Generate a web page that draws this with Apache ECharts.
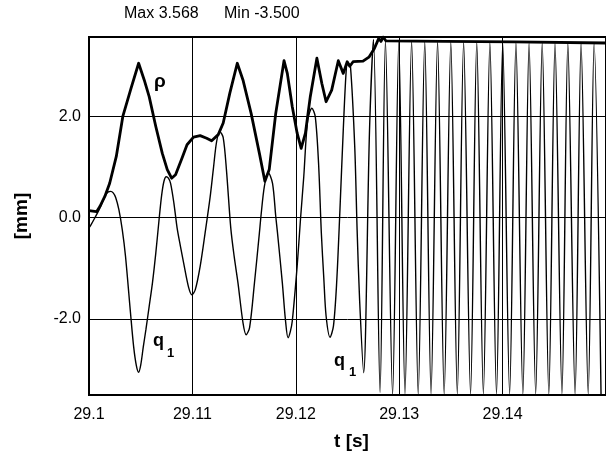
<!DOCTYPE html>
<html>
<head>
<meta charset="utf-8">
<script src="https://cdn.jsdelivr.net/npm/echarts@6/dist/echarts.min.js"></script>
<style>
  html, body { margin: 0; padding: 0; background: #fff; }
  #chart { width: 606px; height: 462px; }
</style>
</head>
<body>
<div id="chart"></div>
<script>
// Radial displacement rho and modal coordinate q1 [mm] over time t [s]
const tRho = [
  29.10000, 29.10073, 29.10105, 29.10153, 29.10200, 29.10264, 29.10327, 29.10407,
  29.10480, 29.10534, 29.10582, 29.10646, 29.10709, 29.10757, 29.10799, 29.10837,
  29.10900, 29.10948, 29.11011, 29.11075, 29.11138, 29.11186, 29.11250, 29.11298,
  29.11362, 29.11434, 29.11489, 29.11568, 29.11648, 29.11701, 29.11743, 29.11806,
  29.11886, 29.11918, 29.11966, 29.12013, 29.12052, 29.12093, 29.12140, 29.12204,
  29.12252, 29.12293, 29.12347, 29.12411, 29.12459, 29.12497, 29.12522, 29.12554,
  29.12650, 29.12707, 29.12760, 29.12802, 29.12824, 29.12846, 29.12872, 29.13445,
  29.14113, 29.15000
];
const rho = [
  0.14, 0.12, 0.22, 0.42, 0.68, 1.21, 2.00, 2.56,
  3.05, 2.72, 2.39, 1.80, 1.27, 0.95, 0.78, 0.85,
  1.18, 1.44, 1.59, 1.62, 1.57, 1.52, 1.64, 1.87,
  2.46, 3.05, 2.72, 2.06, 1.27, 0.72, 0.95, 2.06,
  3.10, 2.85, 2.19, 1.67, 1.37, 1.67, 2.39, 3.15,
  2.65, 2.29, 2.52, 3.10, 2.85, 3.08, 2.99, 3.08,
  3.09, 3.17, 3.34, 3.54, 3.48, 3.568, 3.49, 3.48,
  3.47, 3.45
];

const tQ1 = [
  29.10000, 29.10019, 29.10057, 29.10098, 29.10134, 29.10162, 29.10186, 29.10210,
  29.10234, 29.10258, 29.10289, 29.10322, 29.10353, 29.10401, 29.10432, 29.10458,
  29.10480, 29.10501, 29.10525, 29.10551, 29.10582, 29.10614, 29.10646, 29.10677,
  29.10703, 29.10725, 29.10747, 29.10768, 29.10789, 29.10821, 29.10852, 29.10883,
  29.10916, 29.10964, 29.10995, 29.11028, 29.11075, 29.11123, 29.11171, 29.11202,
  29.11234, 29.11266, 29.11298, 29.11329, 29.11371, 29.11403, 29.11441, 29.11489,
  29.11520, 29.11553, 29.11600, 29.11648, 29.11663, 29.11696, 29.11734, 29.11775,
  29.11806, 29.11823, 29.11870, 29.11899, 29.11925, 29.11947, 29.11966, 29.12013,
  29.12045, 29.12077, 29.12115, 29.12156, 29.12188, 29.12220, 29.12247, 29.12271,
  29.12293, 29.12331, 29.12364, 29.12395, 29.12427, 29.12459, 29.12490, 29.12507,
  29.12529, 29.12570, 29.12593, 29.12617, 29.12656, 29.12713, 29.12751, 29.12815,
  29.12867, 29.12936, 29.12996, 29.13056, 29.13120, 29.13184, 29.13247, 29.13308,
  29.13371, 29.13435, 29.13499, 29.13562, 29.13623, 29.13690, 29.13750, 29.13814,
  29.13877, 29.13941, 29.14001, 29.14068, 29.14129, 29.14196, 29.14256, 29.14320,
  29.14383, 29.14447, 29.14507, 29.14574, 29.14631, 29.14701, 29.14759, 29.14828,
  29.14885, 29.14952
];
const q1 = [
  -0.20, -0.14, 0.00, 0.16, 0.33, 0.45, 0.51, 0.52,
  0.49, 0.40, 0.16, -0.24, -0.76, -1.87, -2.55, -2.92,
  -3.05, -2.90, -2.55, -2.20, -1.75, -1.28, -0.70, -0.05,
  0.45, 0.72, 0.81, 0.78, 0.68, 0.29, -0.20, -0.55,
  -0.90, -1.38, -1.52, -1.42, -0.96, -0.30, 0.40, 0.95,
  1.50, 1.70, 1.58, 0.95, -0.20, -0.75, -1.29, -2.07,
  -2.31, -2.17, -1.29, -0.30, 0.03, 0.62, 0.89, 0.68,
  0.03, -0.30, -1.29, -2.00, -2.37, -2.25, -2.04, -0.96,
  -0.04, 0.81, 1.93, 2.16, 2.00, 1.08, -0.30, -1.20,
  -1.94, -2.36, -2.14, -1.29, 0.16, 1.73, 2.98, 3.05,
  2.98, 1.40, -0.24, -1.62, -3.06, 1.73, 3.52, -3.45,
  3.50, -3.50, 3.49, -3.48, 3.49, -3.49, 3.48, -3.48,
  3.48, -3.49, 3.47, -3.48, 3.47, -3.49, 3.47, -3.48,
  3.46, -3.49, 3.46, -3.48, 3.46, -3.49, 3.45, -3.48,
  3.45, -3.49, 3.45, -3.48, 3.45, -3.49, 3.45, -3.48,
  3.45, -3.48
];

const xTicks = [29.1, 29.11, 29.12, 29.13, 29.14];
const yTicks = [-2, 0, 2];

const font = '"Liberation Sans", Arial, Helvetica, sans-serif';

const rhoPairs = tRho.map((t, i) => [t, rho[i]]);
const q1Pairs = tQ1.map((t, i) => [t, q1[i]]);
const allValues = rho.concat(q1);
const vMax = Math.max(...allValues);
const vMin = Math.min(...allValues);

const chart = echarts.init(document.getElementById('chart'), null, { renderer: 'canvas' });

const headStyle = { fontFamily: font, fontSize: 16, fontWeight: 'normal', color: '#000' };

chart.setOption({
  animation: false,
  backgroundColor: '#fff',
  title: [
    { text: 'Max ' + vMax.toFixed(3), left: 124, top: 6, padding: 0, textStyle: headStyle },
    { text: 'Min ' + vMin.toFixed(3), left: 224, top: 6, padding: 0, textStyle: headStyle }
  ],
  grid: {
    left: 89, top: 37, right: -7, bottom: 67,
    show: true, borderColor: '#000', borderWidth: 2, backgroundColor: 'transparent'
  },
  xAxis: {
    type: 'value',
    min: 29.1, max: 29.15, interval: 0.01,
    name: 't [s]', nameLocation: 'middle', nameGap: 37,
    nameTextStyle: { fontFamily: font, fontSize: 19, fontWeight: 'bold', color: '#000', padding: [0, 0, 0, 8] },
    axisLine: { show: false },
    axisTick: { show: false, customValues: xTicks },
    axisLabel: {
      customValues: xTicks,
      margin: 12, fontFamily: font, fontSize: 16, color: '#000',
      formatter: v => String(+(+v).toFixed(2))
    },
    splitLine: { show: true, lineStyle: { color: '#000', width: 1 } }
  },
  yAxis: {
    type: 'value',
    min: vMin, max: vMax,
    name: '[mm]', nameLocation: 'middle', nameGap: 58, nameRotate: 90,
    nameTextStyle: { fontFamily: font, fontSize: 19, fontWeight: 'bold', color: '#000' },
    axisLine: { show: false },
    axisTick: { show: false, customValues: yTicks },
    axisLabel: {
      customValues: yTicks,
      margin: 8, fontFamily: font, fontSize: 16, color: '#000',
      formatter: v => (+v).toFixed(1)
    },
    splitLine: { show: true, lineStyle: { color: '#000', width: 1 } }
  },
  series: [
    {
      name: 'q1', type: 'line', data: q1Pairs, showSymbol: false, symbol: 'none',
      smooth: 0.3, lineStyle: { color: '#000', width: 1.4 }, z: 3
    },
    {
      name: 'rho', type: 'line', data: rhoPairs, showSymbol: false, symbol: 'none',
      lineStyle: { color: '#000', width: 2.8, join: 'round' }, z: 4
    }
  ],
  graphic: [
    { type: 'text', left: 154, top: 72, z: 10,
      style: { text: 'ρ', font: 'bold 19px ' + font, fill: '#000' } },
    { type: 'text', left: 153, top: 332, z: 10,
      style: { text: 'q', font: 'bold 18px ' + font, fill: '#000' } },
    { type: 'text', left: 167, top: 347, z: 10,
      style: { text: '1', font: 'bold 13px ' + font, fill: '#000' } },
    { type: 'text', left: 334, top: 352, z: 10,
      style: { text: 'q', font: 'bold 18px ' + font, fill: '#000' } },
    { type: 'text', left: 349, top: 366, z: 10,
      style: { text: '1', font: 'bold 13px ' + font, fill: '#000' } }
  ]
});
</script>
</body>
</html>
